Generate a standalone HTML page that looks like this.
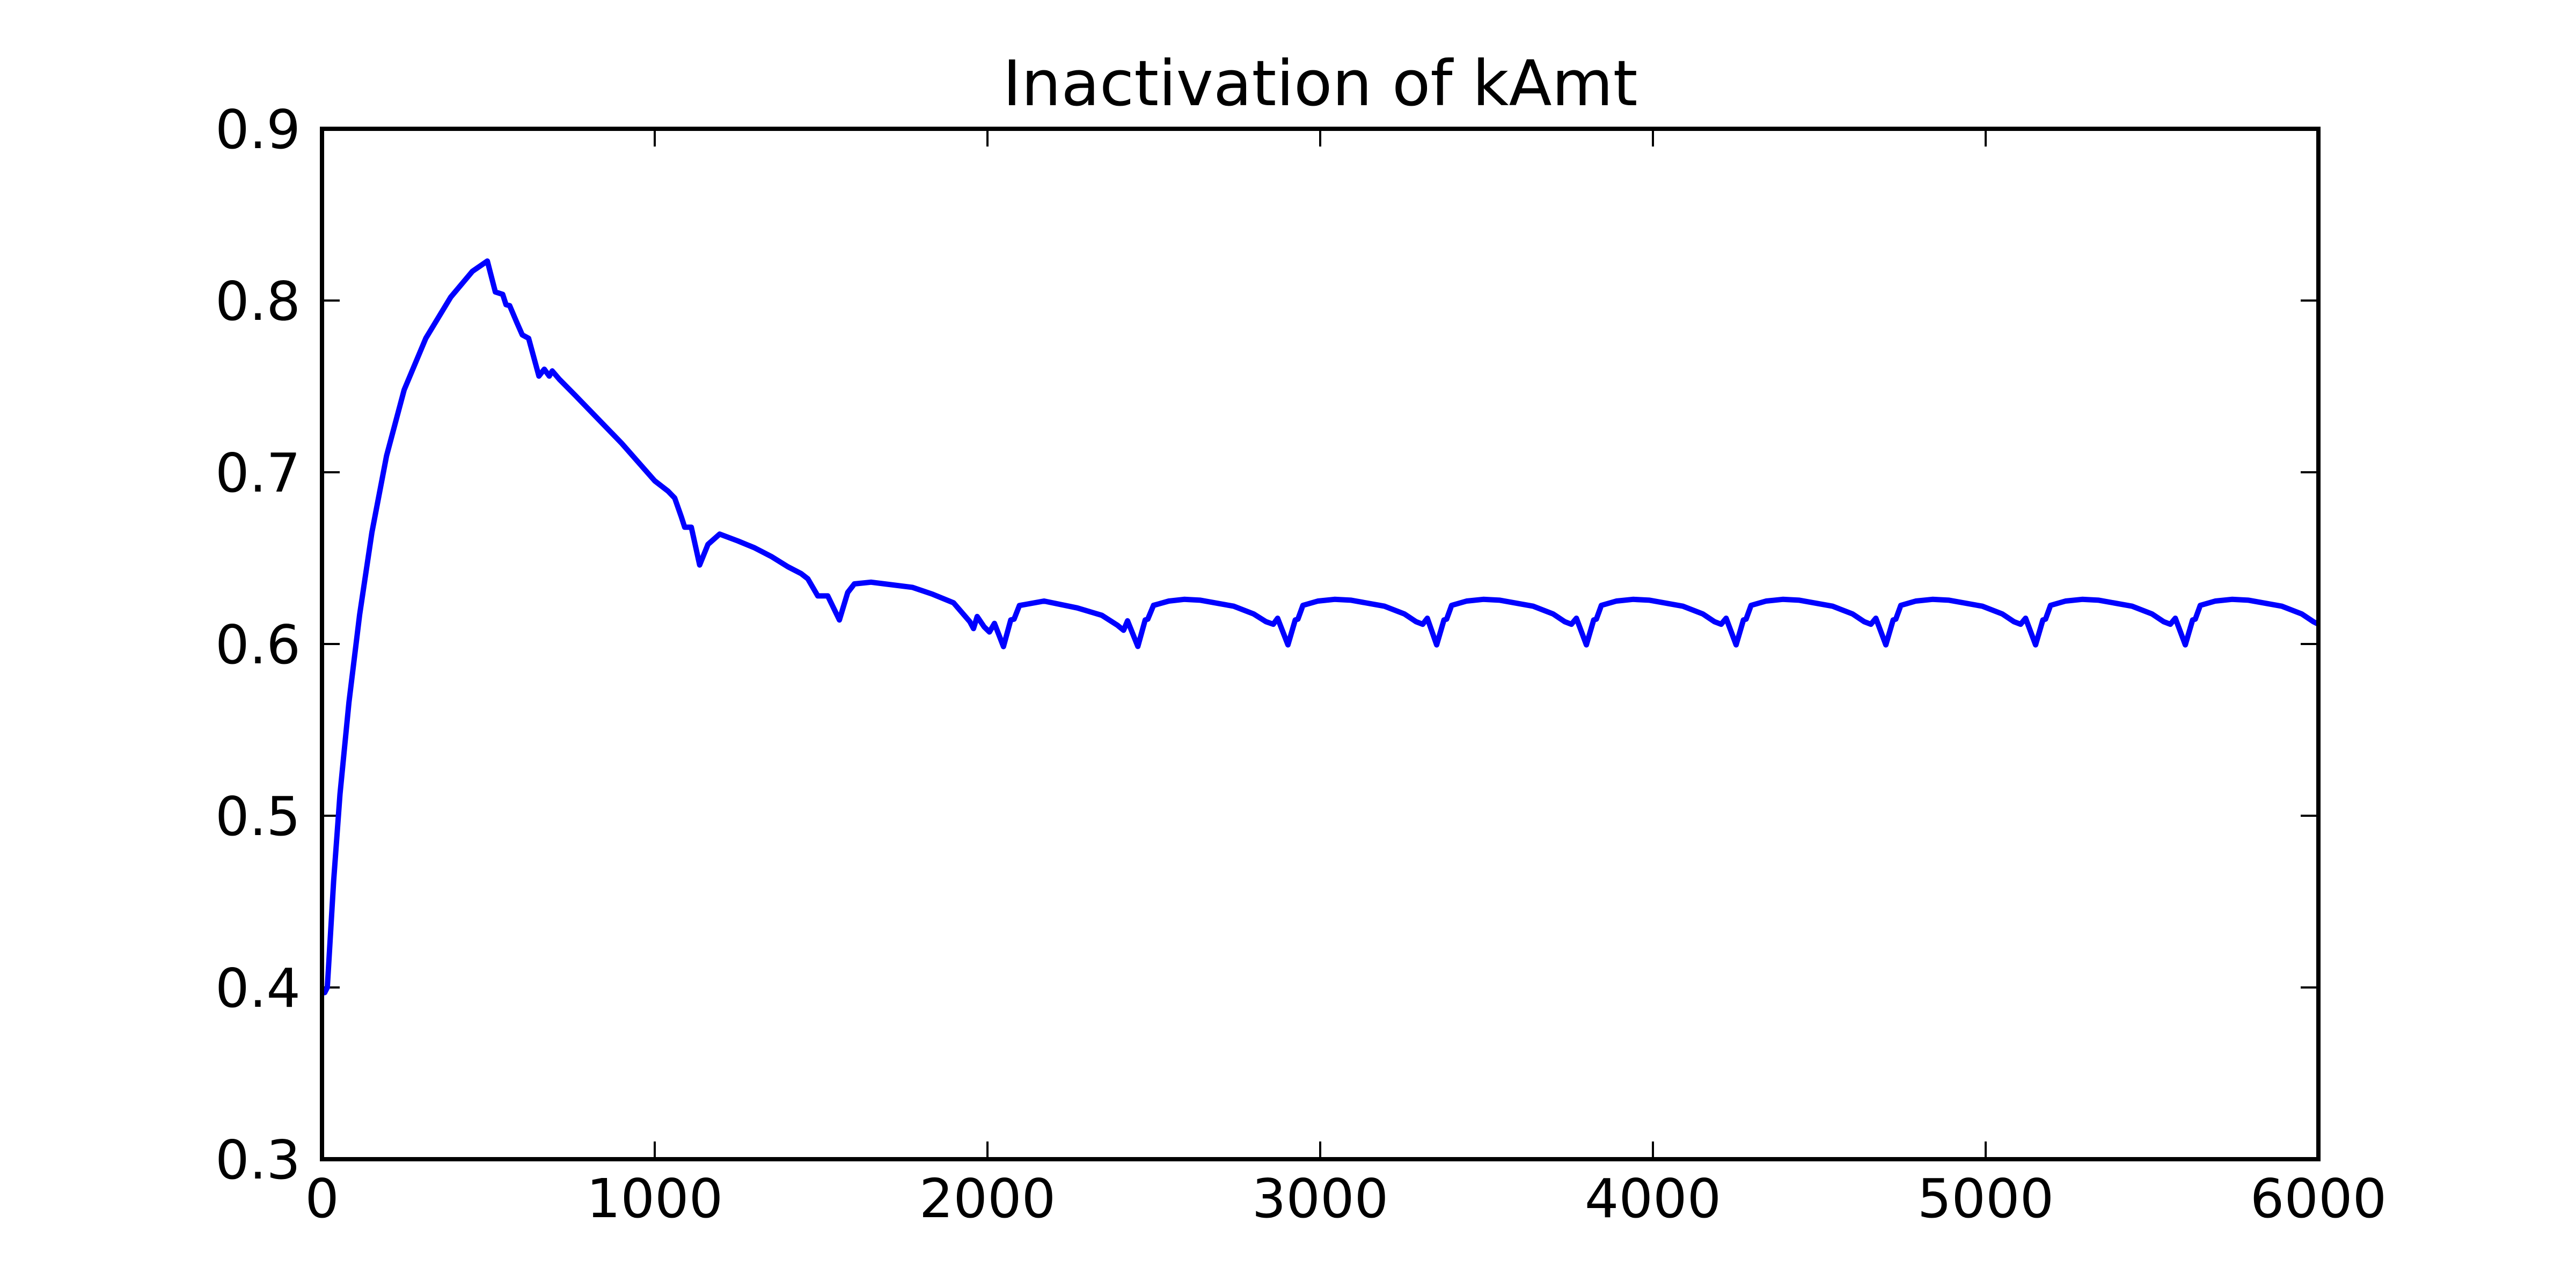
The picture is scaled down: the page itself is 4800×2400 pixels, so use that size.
<!DOCTYPE html>
<html><head><meta charset="utf-8"><style>html,body{margin:0;padding:0;background:#fff;}svg{display:block;}</style></head>
<body>
<svg id="chart" width="4800" height="2400" viewBox="0 0 4800 2400" xmlns="http://www.w3.org/2000/svg">
<rect x="0" y="0" width="4800" height="2400" fill="#fff"/>
<text x="2460" y="196" font-family="DejaVu Sans, Liberation Sans, sans-serif" font-size="117" text-anchor="middle">Inactivation of kAmt</text>
<g id="ticks"></g>
<path id="series" fill="none" stroke="#0000ff" stroke-width="10" stroke-linejoin="round"/>
<rect x="600" y="240" width="3720" height="1920" fill="none" stroke="#000" stroke-width="8"/>
</svg>
<script>
const xTicks = [0,1000,2000,3000,4000,5000,6000];
const yTicks = [0.3,0.4,0.5,0.6,0.7,0.8,0.9];
const yTickLabels = ["0.3","0.4","0.5","0.6","0.7","0.8","0.9"];
const times = [0,8,16,35,54,81,113,150,194,247,312,387,452,497,521,543,553,564,586,602,621,652,668,683,692,714,760,800,850,900,950,1000,1040,1060,1080,1090,1110,1135,1160,1195,1250,1300,1350,1400,1440,1460,1490,1520,1555,1580,1600,1650,1774,1835,1898,1947,1958,1969,1990,2006,2021,2048,
2070,2080,2096,2170,2270,2344,2390,2409,2421,2452,
2474,2482,2499,2545,2591,2640,2740,2800,2837,2859,2872,2903,
2925,2933,2948,2993,3043,3093,3193,3253,3288,3308,3322,3350,
3372,3380,3395,3440,3490,3540,3640,3700,3735,3755,3770,3800,
3822,3830,3845,3890,3940,3990,4090,4150,4185,4205,4220,4250,
4272,4280,4295,4340,4390,4440,4540,4600,4635,4655,4670,4700,
4722,4730,4745,4790,4840,4890,4990,5050,5085,5105,5120,5150,
5172,5180,5195,5240,5290,5340,5440,5500,5535,5555,5570,5600,
5622,5630,5645,5690,5740,5790,5890,5950,5985,6000];
const values = [0.399,0.397,0.40,0.462,0.5125,0.566,0.617,0.665,0.7096,0.748,0.778,0.802,0.817,0.823,0.805,0.8036,0.7976,0.797,0.787,0.780,0.778,0.756,0.760,0.756,0.759,0.754,0.745,0.737,0.727,0.717,0.706,0.695,0.689,0.685,0.674,0.668,0.668,0.646,0.658,0.664,0.660,0.656,0.651,0.645,0.641,0.638,0.628,0.628,0.614,0.630,0.635,0.636,0.633,0.629,0.624,0.613,0.609,0.616,0.610,0.607,0.612,0.5985,
0.614,0.6145,0.6224,0.625,0.621,0.6167,0.611,0.608,0.6135,0.5986,
0.614,0.6145,0.6225,0.625,0.626,0.6255,0.622,0.6175,0.613,0.6115,0.615,0.5995,
0.614,0.6145,0.6225,0.625,0.626,0.6255,0.622,0.6175,0.613,0.6115,0.615,0.5995,
0.614,0.6145,0.6225,0.625,0.626,0.6255,0.622,0.6175,0.613,0.6115,0.615,0.5995,
0.614,0.6145,0.6225,0.625,0.626,0.6255,0.622,0.6175,0.613,0.6115,0.615,0.5995,
0.614,0.6145,0.6225,0.625,0.626,0.6255,0.622,0.6175,0.613,0.6115,0.615,0.5995,
0.614,0.6145,0.6225,0.625,0.626,0.6255,0.622,0.6175,0.613,0.6115,0.615,0.5995,
0.614,0.6145,0.6225,0.625,0.626,0.6255,0.622,0.6175,0.613,0.6115,0.615,0.5995,
0.614,0.6145,0.6225,0.625,0.626,0.6255,0.622,0.6175,0.613,0.6115];

const L=600,R=4320,T=240,B=2160;
function xs(t){return L+(t-0)/(6000-0)*(R-L);}
function ys(v){return B-(v-0.3)/(0.9-0.3)*(B-T);}
const NS="http://www.w3.org/2000/svg";
const g=document.getElementById('ticks');
function line(x1,y1,x2,y2,name){const l=document.createElementNS(NS,'line');
l.setAttribute('x1',x1);l.setAttribute('y1',y1);l.setAttribute('x2',x2);l.setAttribute('y2',y2);
l.setAttribute('stroke','#000');l.setAttribute('stroke-width','4');


g.appendChild(l);}
function label(x,y,s,anchor,name){const t=document.createElementNS(NS,'text');
t.setAttribute('x',x);t.setAttribute('y',y);t.setAttribute('text-anchor',anchor);
t.setAttribute('font-family','DejaVu Sans, Liberation Sans, sans-serif');t.setAttribute('font-size','100');
t.textContent=s;


g.appendChild(t);}
xTicks.forEach(v=>{const x=xs(v);line(x,B,x,B-33,'x-tick');line(x,T,x,T+33,'x-tick-top');label(x,2268,String(v),'middle','x-tick-label');});
yTicks.forEach((v,i)=>{const y=ys(v);line(L,y,L+33,y,'y-tick');line(R,y,R-33,y,'y-tick-right');label(560,y+36,yTickLabels[i],'end','y-tick-label');});
let d='';
for(let i=0;i<times.length;i++){d+=(i?'L':'M')+xs(times[i]).toFixed(1)+','+ys(values[i]).toFixed(1);}
document.getElementById('series').setAttribute('d',d);
</script>
</body></html>
